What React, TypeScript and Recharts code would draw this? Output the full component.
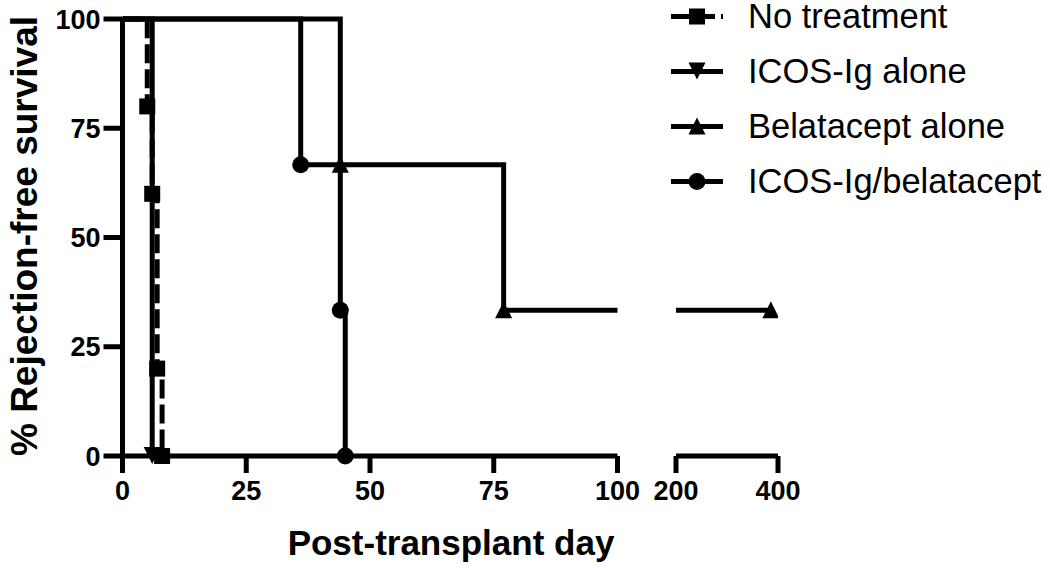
import React from 'react';
import { LineChart, Line, XAxis, YAxis, ReferenceLine } from 'recharts';

// ---------- data ----------
const seriesNames = ['No treatment', 'ICOS-Ig alone', 'Belatacept alone', 'ICOS-Ig/belatacept'];

const noTreatmentDays = [0, 5, 6, 7, 8];
const noTreatmentSurvival = [100, 80, 60, 20, 0];
const noTreatmentMarked = [false, true, true, true, true];

const icosDays = [0, 6];
const icosSurvival = [100, 0];
const icosMarked = [false, true];

// null = break of the x axis between 100 and 200
const belataceptDays = [0, 44, 77, 100, 150, 200, 386];
const belataceptSurvival: (number | null)[] = [100, 66.67, 33.33, 33.33, null, 33.33, 33.33];
const belataceptMarked = [false, true, true, false, false, false, true];

const comboDays = [0, 36, 44, 45];
const comboSurvival = [100, 66.67, 33.33, 0];
const comboMarked = [false, true, true, true];

const xTickValues = [0, 25, 50, 75, 100, 200, 400];
const yTickValues = [0, 25, 50, 75, 100];
const xSegments: [number, number][] = [[0, 100], [200, 400]];

// ---------- broken x scale (two segments) ----------
const SEG1_END = 100;
const SEG2_START = 200;
const SEG2_END = 400;
const SEG1_LEN = 495;
const GAP_LEN = 58.5;
const SEG2_LEN = 102;
const X_MAX = SEG1_LEN + GAP_LEN + SEG2_LEN;

const toDisplay = (x: number) =>
  x <= SEG1_END
    ? (x / SEG1_END) * SEG1_LEN
    : x >= SEG2_START
    ? SEG1_LEN + GAP_LEN + ((x - SEG2_START) / (SEG2_END - SEG2_START)) * SEG2_LEN
    : SEG1_LEN + GAP_LEN / 2;

const buildRows = (days: number[], vals: (number | null)[], marks: boolean[]) =>
  days.map((d, i) => ({ d: toDisplay(d), v: vals[i], mark: marks[i] }));

const noTreatmentRows = buildRows(noTreatmentDays, noTreatmentSurvival, noTreatmentMarked);
const icosRows = buildRows(icosDays, icosSurvival, icosMarked);
const belataceptRows = buildRows(belataceptDays, belataceptSurvival, belataceptMarked);
const comboRows = buildRows(comboDays, comboSurvival, comboMarked);

const FONT = '"Liberation Sans", Arial, Helvetica, sans-serif';
const DASH = '19 6';

type Shape = 'square' | 'down' | 'up' | 'circle';

const Marker = ({ shape, cx, cy }: { shape: Shape; cx: number; cy: number }) => {
  if (shape === 'square') return <rect x={cx - 8} y={cy - 8} width={16} height={16} fill="#000" />;
  if (shape === 'down')
    return <polygon points={`${cx - 8.5},${cy - 9} ${cx + 8.5},${cy - 9} ${cx},${cy + 8}`} fill="#000" />;
  if (shape === 'up')
    return <polygon points={`${cx},${cy - 9} ${cx - 8.5},${cy + 8} ${cx + 8.5},${cy + 8}`} fill="#000" />;
  return <circle cx={cx} cy={cy} r={8.5} fill="#000" />;
};

const makeDot = (shape: Shape) => (props: any) => {
  const { cx, cy, payload, index } = props;
  if (!payload || !payload.mark || cx == null || cy == null || payload.v == null)
    return <g key={`e-${shape}-${index}`} />;
  return (
    <g key={`m-${shape}-${index}`}>
      <Marker shape={shape} cx={cx} cy={cy} />
    </g>
  );
};

const seriesShapes: Shape[] = ['square', 'down', 'up', 'circle'];
const seriesDash = [DASH, undefined, undefined, undefined];

const xLabelFor = (v: number) => {
  const i = xTickValues.findIndex((t) => Math.abs(toDisplay(t) - v) < 0.01);
  return i >= 0 ? String(xTickValues[i]) : '';
};

const LegendBlock = () => (
  <svg
    width={390}
    height={215}
    style={{ position: 'absolute', left: 668, top: 0, display: 'block', overflow: 'visible' }}
  >
    {seriesNames.map((name, i) => {
      const cy = 16.5 + i * 55;
      return (
        <g key={name}>
          <line
            x1={3}
            x2={55}
            y1={cy}
            y2={cy}
            stroke="#000"
            strokeWidth={5}
            strokeDasharray={seriesDash[i]}
          />
          <Marker shape={seriesShapes[i]} cx={29} cy={cy} />
          <text x={80} y={cy + 11.5} fontSize={34.5} fontFamily={FONT} fill="#000">
            {name}
          </text>
        </g>
      );
    })}
  </svg>
);

const XTitle = () => (
  <text x={451} y={555} textAnchor="middle" fontSize={35} fontWeight="bold" fontFamily={FONT} fill="#000">
    Post-transplant day
  </text>
);

const YTitle = () => (
  <text
    x={24}
    y={236}
    transform="rotate(-90 24 236)"
    textAnchor="middle"
    dominantBaseline="central"
    fontSize={37}
    fontWeight="bold"
    fontFamily={FONT}
    fill="#000"
  >
    % Rejection-free survival
  </text>
);

const lineCommon = {
  type: 'stepAfter' as const,
  dataKey: 'v',
  stroke: '#000',
  strokeWidth: 5,
  strokeLinejoin: 'miter' as const,
  strokeLinecap: 'butt' as const,
  isAnimationActive: false,
  activeDot: false,
  connectNulls: false,
  legendType: 'none' as const,
};

export default function App() {
  return (
    <div style={{ position: 'absolute', left: 0, top: 0, width: 1050, height: 569, background: '#fff' }}>
      <LineChart
        width={1050}
        height={569}
        margin={{ top: 19, right: 272, bottom: 0, left: 62.5 }}
        style={{ fontFamily: FONT }}
      >
        <XAxis
          type="number"
          dataKey="d"
          domain={[0, X_MAX]}
          ticks={xTickValues.map(toDisplay)}
          tickFormatter={xLabelFor}
          interval={0}
          allowDataOverflow
          axisLine={false}
          tickLine={{ stroke: '#000', strokeWidth: 5 }}
          tickSize={17}
          tickMargin={8}
          height={113}
          tick={{ fill: '#000', fontSize: 27, fontWeight: 'bold', fontFamily: FONT }}
          label={<XTitle />}
        />
        <YAxis
          type="number"
          domain={[0, 100]}
          ticks={yTickValues}
          interval={0}
          width={60}
          axisLine={{ stroke: '#000', strokeWidth: 5 }}
          tickLine={{ stroke: '#000', strokeWidth: 5 }}
          tickSize={19}
          tickMargin={3}
          tick={{ fill: '#000', fontSize: 27, fontWeight: 'bold', fontFamily: FONT }}
          label={<YTitle />}
        />
        {xSegments.map(([a, b], i) => (
          <ReferenceLine
            key={`seg-${i}`}
            segment={[
              { x: toDisplay(a), y: 0 },
              { x: toDisplay(b), y: 0 },
            ]}
            stroke="#000"
            strokeWidth={5}
            ifOverflow="visible"
          />
        ))}
        <Line {...lineCommon} data={belataceptRows} name={seriesNames[2]} dot={makeDot('up')} />
        <Line {...lineCommon} data={comboRows} name={seriesNames[3]} dot={makeDot('circle')} />
        <Line {...lineCommon} data={icosRows} name={seriesNames[1]} dot={makeDot('down')} />
        <Line
          {...lineCommon}
          data={noTreatmentRows}
          name={seriesNames[0]}
          strokeDasharray={DASH}
          dot={makeDot('square')}
        />
      </LineChart>
      <LegendBlock />
    </div>
  );
}
